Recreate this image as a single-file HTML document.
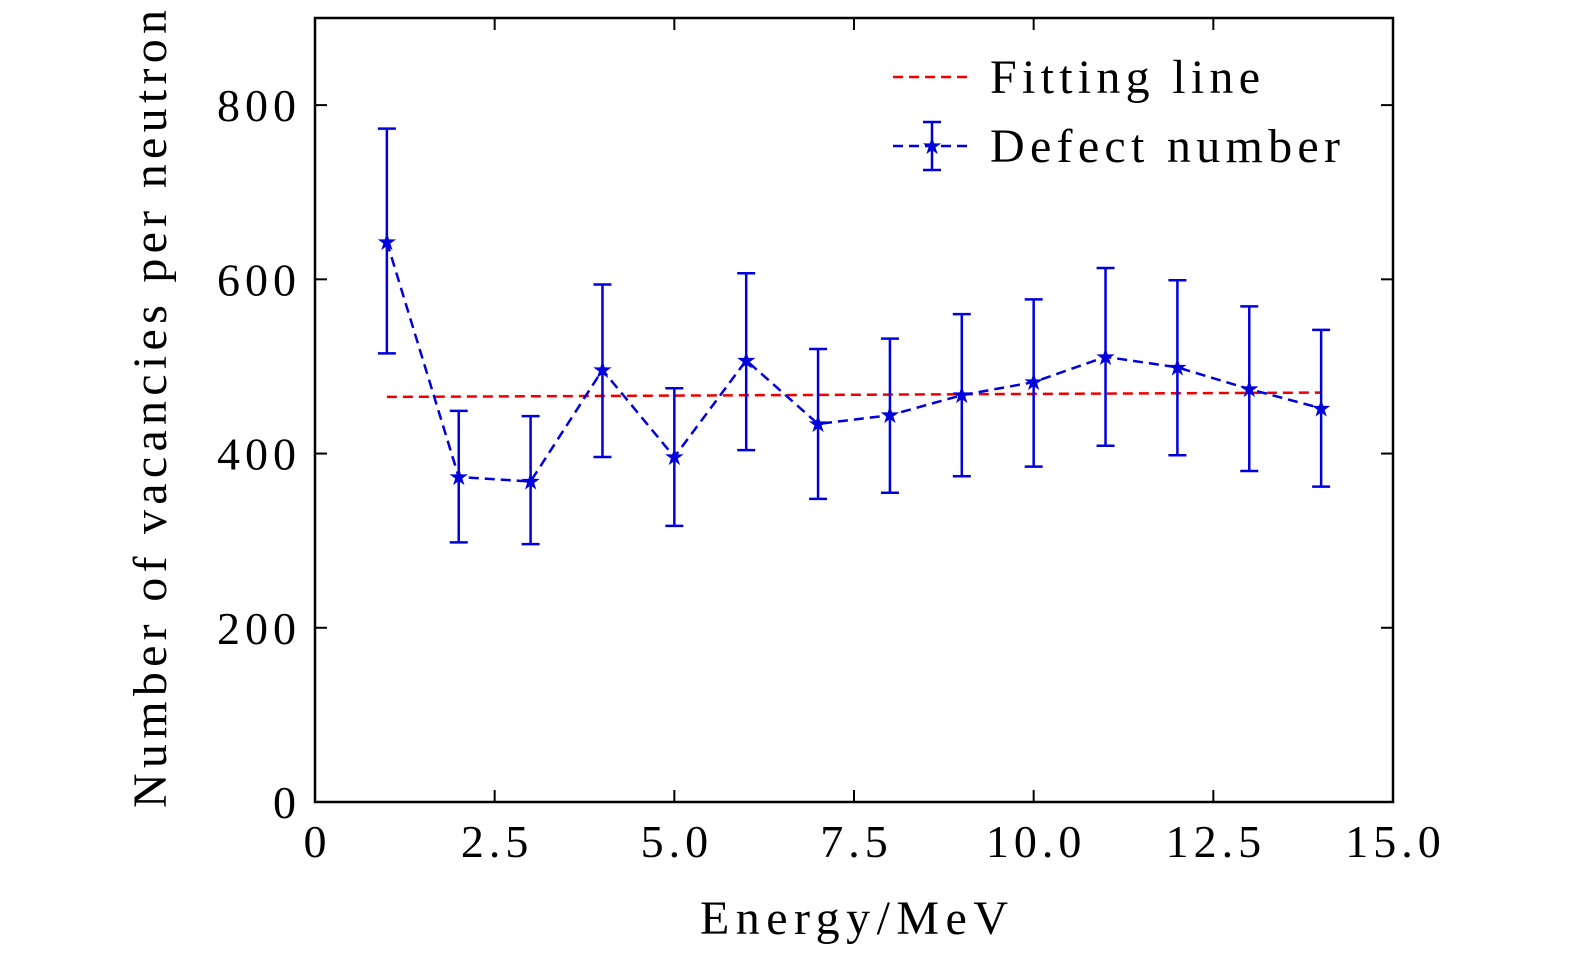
<!DOCTYPE html>
<html><head><meta charset="utf-8"><style>
html,body{margin:0;padding:0;background:#fff;}
svg{display:block;font-family:"Liberation Serif",serif;}
</style></head><body>
<svg id="chart" width="1575" height="959" viewBox="0 0 1575 959">
<g id="ticks"></g>
<g id="marks"></g>
<rect x="315" y="18" width="1078" height="784" fill="none" stroke="#000" stroke-width="2.5"/>
<text x="700" y="934" font-size="48" textLength="308" lengthAdjust="spacing">Energy/MeV</text>
<text transform="translate(166,808) rotate(-90)" font-size="48" textLength="798" lengthAdjust="spacing">Number of vacancies per neutron</text>
<g>
  <g>
    <line x1="893" y1="77" x2="970" y2="77" stroke="#e00" stroke-width="2.5" stroke-dasharray="10,6"/>
    <text x="990" y="93" font-size="48" textLength="270" lengthAdjust="spacing">Fitting line</text>
  </g>
  <g>
    <line x1="893" y1="146" x2="970" y2="146" stroke="#0000dd" stroke-width="2.5" stroke-dasharray="10,6"/>
    <line x1="932" y1="122" x2="932" y2="170" stroke="#0000dd" stroke-width="2.5"/>
    <line x1="923" y1="122" x2="941" y2="122" stroke="#0000dd" stroke-width="2.5"/>
    <line x1="923" y1="170" x2="941" y2="170" stroke="#0000dd" stroke-width="2.5"/>
    <text x="932" y="154" font-size="24" text-anchor="middle" fill="#0000dd">★</text>
    <text x="990" y="162" font-size="48" textLength="350" lengthAdjust="spacing">Defect number</text>
  </g>
</g>
</svg>
<script>
const energies=[1,2,3,4,5,6,7,8,9,10,11,12,13,14];
const defects=[643,373,368,496,396,507,434,444,467,482,511,499,474,452];
const errUpper=[773,449,443,594,475,607,520,532,560,577,613,599,569,542];
const errLower=[515,298,296,396,317,404,348,355,374,385,409,398,380,362];
const fitX=[1,14];
const fitY=[465,470];
const xTicks=[0,2.5,5,7.5,10,12.5,15];
const xTickLabels=["0","2.5","5.0","7.5","10.0","12.5","15.0"];
const yTicks=[0,200,400,600,800];
const yTickLabels=["0","200","400","600","800"];

const X0=315,X1=1393,Y0=802,Y1=18,XMAX=15,YMAX=900;
function sx(v){return X0+(X1-X0)*v/XMAX;}
function sy(v){return Y0-(Y0-Y1)*v/YMAX;}
const NS="http://www.w3.org/2000/svg";
function mk(tag,attrs,parent){const e=document.createElementNS(NS,tag);for(const k in attrs)e.setAttribute(k,attrs[k]);parent.appendChild(e);return e;}
const tg=document.getElementById('ticks');
xTicks.forEach((t,i)=>{
  const l=mk('line',{x1:sx(t),x2:sx(t),y1:Y0,y2:Y0-12,stroke:'#000','stroke-width':2},tg);
  
  
  const l2=mk('line',{x1:sx(t),x2:sx(t),y1:Y1,y2:Y1+12,stroke:'#000','stroke-width':2},tg);
  
  
  const tx=mk('text',{x:sx(t)+2.5,y:857,'font-size':46,'text-anchor':'middle','letter-spacing':5},tg);
  tx.textContent=xTickLabels[i];
  
  
});
yTicks.forEach((t,i)=>{
  const l=mk('line',{x1:X0,x2:X0+12,y1:sy(t),y2:sy(t),stroke:'#000','stroke-width':2},tg);
  
  
  const l2=mk('line',{x1:X1,x2:X1-12,y1:sy(t),y2:sy(t),stroke:'#000','stroke-width':2},tg);
  
  
  const tx=mk('text',{x:301,y:sy(t)+16,'font-size':46,'text-anchor':'end','letter-spacing':5},tg);
  tx.textContent=yTickLabels[i];
  
  
});
const mg=document.getElementById('marks');
const fit=mk('line',{x1:sx(fitX[0]),y1:sy(fitY[0]),x2:sx(fitX[1]),y2:sy(fitY[1]),stroke:'#e00','stroke-width':2.5,'stroke-dasharray':'10,6'},mg);


const pts=energies.map((e,i)=>sx(e)+','+sy(defects[i])).join(' ');
const pl=mk('polyline',{points:pts,fill:'none',stroke:'#0000dd','stroke-width':2.5,'stroke-dasharray':'10,6'},mg);


energies.forEach((e,i)=>{
  const g=mk('g',{},mg);
  
  
  const x=sx(e);
  mk('line',{x1:x,x2:x,y1:sy(errUpper[i]),y2:sy(errLower[i]),stroke:'#0000dd','stroke-width':2.5},g);
  mk('line',{x1:x-9,x2:x+9,y1:sy(errUpper[i]),y2:sy(errUpper[i]),stroke:'#0000dd','stroke-width':2.5},g);
  mk('line',{x1:x-9,x2:x+9,y1:sy(errLower[i]),y2:sy(errLower[i]),stroke:'#0000dd','stroke-width':2.5},g);
  const s=mk('text',{x:x,y:sy(defects[i])+8,'font-size':24,'text-anchor':'middle',fill:'#0000dd'},mg);
  s.textContent='★';
  
  
});
</script>
</body></html>
